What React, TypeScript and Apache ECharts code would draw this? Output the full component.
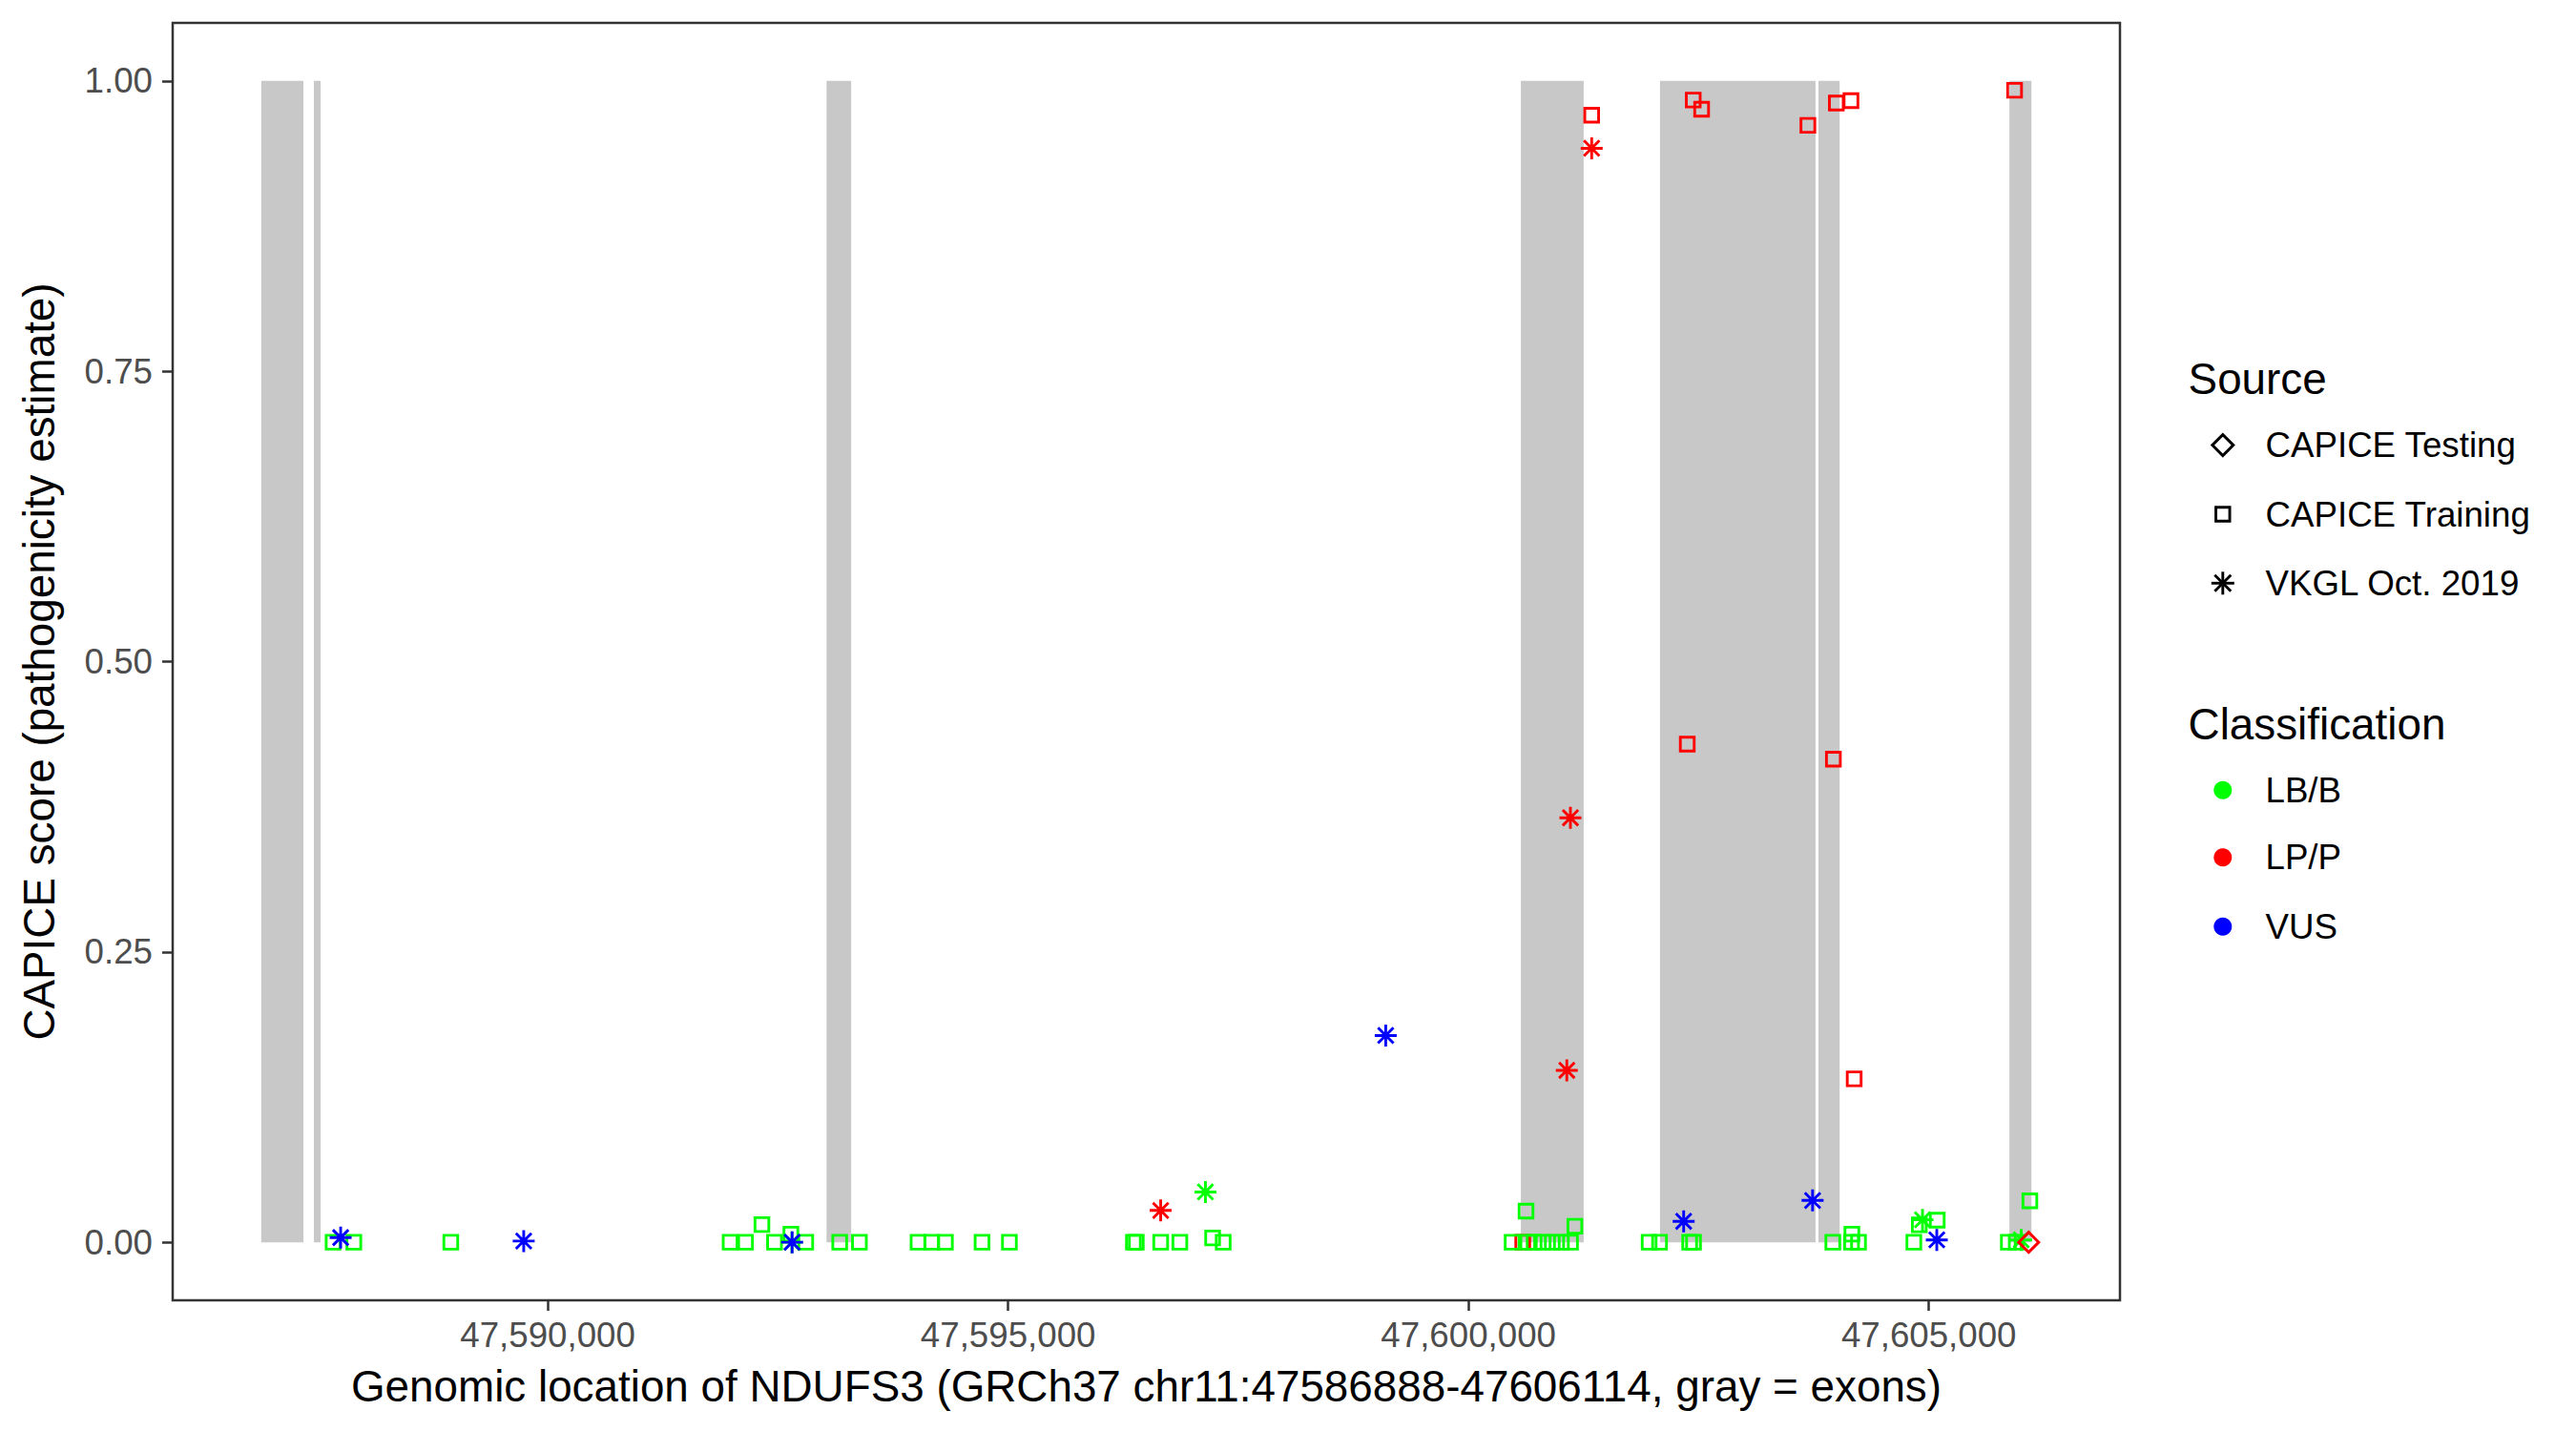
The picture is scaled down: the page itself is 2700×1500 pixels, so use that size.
import React, { useEffect, useRef } from "react";
import * as echarts from "echarts";

// Gene span (GRCh37 chr11) and exons (gray rectangles)
const geneStart = 47586888;
const geneEnd = 47606114;
const exonStarts = [47586889, 47587460, 47593028, 47600569, 47602080, 47603801, 47605875];
const exonEnds = [47587347, 47587533, 47593296, 47601251, 47603769, 47604031, 47606114];

// Tick values
const xTicks = [47590000, 47595000, 47600000, 47605000];
const yTicks = [0, 0.25, 0.5, 0.75, 1];

// [genomic position, CAPICE score]
const lpTraining: [number, number][] = [
  [47600589, 0], [47601338, 0.9705], [47602441, 0.9836], [47602532, 0.9757],
  [47603686, 0.9618], [47603995, 0.981], [47604154, 0.983], [47605931, 0.992],
  [47602376, 0.429], [47603963, 0.416], [47604189, 0.1407],
];
const lbTraining: [number, number][] = [
  [47587669, 0], [47587894, 0], [47588947, 0], [47591981, 0], [47592148, 0],
  [47592326, 0.0152], [47592463, 0], [47592641, 0.007], [47592802, 0], [47593171, 0],
  [47593385, 0], [47594022, 0], [47594170, 0], [47594319, 0], [47594717, 0],
  [47595014, 0], [47596361, 0], [47596392, 0], [47596657, 0], [47596865, 0],
  [47597221, 0.0037], [47597336, 0], [47600474, 0], [47600644, 0], [47600713, 0],
  [47600811, 0], [47600910, 0], [47601009, 0], [47601108, 0], [47600625, 0.0268],
  [47601155, 0.0138], [47601962, 0], [47602075, 0], [47602402, 0], [47602444, 0],
  [47603957, 0], [47604164, 0.007], [47604160, 0], [47604236, 0], [47604837, 0],
  [47604896, 0.015], [47605091, 0.019], [47605863, 0], [47605949, 0], [47606097, 0.0356],
];
const lbVkgl: [number, number][] = [
  [47592652, 0], [47597143, 0.0433], [47604931, 0.0193], [47606003, 0.002],
];
const lpVkgl: [number, number][] = [
  [47596657, 0.0274], [47601068, 0.148], [47601107, 0.3655], [47601338, 0.942],
];
const lpTesting: [number, number][] = [[47606084, 0]];
const vusVkgl: [number, number][] = [
  [47587751, 0.004], [47589739, 0.001], [47592654, 0], [47599101, 0.178],
  [47602337, 0.018], [47603737, 0.036], [47605086, 0.002],
];

const sourceLabels = ["CAPICE Testing", "CAPICE Training", "VKGL Oct. 2019"];
const classLabels = ["LB/B", "LP/P", "VUS"];
const classColors = ["#00FF00", "#FF0000", "#0000FF"];

const FONT = "'Liberation Sans', Arial, Helvetica, sans-serif";
const ASTERISK = "path://M-10 0L10 0M0-10L0 10M-7.07-7.07L7.07 7.07M-7.07 7.07L7.07-7.07";
const STROKE = 2.9;

function fmtThousands(v: number): string {
  return String(Math.round(v)).replace(/\B(?=(\d{3})+(?!\d))/g, ",");
}

function pointSeries(data: [number, number][], symbol: string, size: number, color: string) {
  return {
    type: "scatter",
    data,
    symbol,
    symbolSize: size,
    itemStyle: { color: "rgba(0,0,0,0)", borderColor: color, borderWidth: STROKE, opacity: 1 },
    emphasis: { disabled: true },
    silent: true,
    z: 3,
  };
}

export default function App() {
  const ref = useRef<HTMLDivElement>(null);
  useEffect(() => {
    document.body.style.margin = "0";
    if (!ref.current) return;
    const chart = echarts.init(ref.current, null, { renderer: "svg" });
    const span = geneEnd - geneStart;
    const xMin = geneStart - 0.05 * span;
    const xMax = geneEnd + 0.05 * span;

    const lx = 2293.6;
    const sx = 2329.8;
    const tx = 2374.5;
    const srcY = [466.6, 539, 611.3];
    const clsY = [828.2, 898.8, 971.2];

    const asteriskLines = (cx: number, cy: number, r: number, color: string) => {
      const d = r * 0.7071;
      const segs = [
        [-r, 0, r, 0], [0, -r, 0, r], [-d, -d, d, d], [-d, d, d, -d],
      ];
      return segs.map((s) => ({
        type: "line",
        shape: { x1: cx + s[0], y1: cy + s[1], x2: cx + s[2], y2: cy + s[3] },
        style: { stroke: color, lineWidth: STROKE },
      }));
    };

    const textEl = (text: string, x: number, y: number, size: number, align = "left") => ({
      type: "text",
      x,
      y,
      style: {
        text,
        fontSize: size,
        fontFamily: FONT,
        fill: "#000",
        textAlign: align,
        align,
        textVerticalAlign: "middle",
        verticalAlign: "middle",
      },
    });

    const graphics: any[] = [
      textEl("Source", lx, 397.8, 45.8),
      {
        type: "polygon",
        shape: { points: [[sx, srcY[0] - 11], [sx + 11, srcY[0]], [sx, srcY[0] + 11], [sx - 11, srcY[0]]] },
        style: { fill: "none", stroke: "#000", lineWidth: STROKE },
      },
      {
        type: "rect",
        shape: { x: sx - 7.25, y: srcY[1] - 7.25, width: 14.5, height: 14.5 },
        style: { fill: "none", stroke: "#000", lineWidth: STROKE },
      },
      ...asteriskLines(sx, srcY[2], 12, "#000"),
      ...sourceLabels.map((t, i) => textEl(t, tx, srcY[i], 36.7)),
      textEl("Classification", lx, 759.4, 45.8),
      ...classColors.map((c, i) => ({
        type: "circle",
        shape: { cx: sx, cy: clsY[i], r: 9.5 },
        style: { fill: c },
      })),
      ...classLabels.map((t, i) => textEl(t, tx, clsY[i], 36.7)),
      textEl(
        "Genomic location of NDUFS3 (GRCh37 chr11:47586888-47606114, gray = exons)",
        1201.5,
        1453,
        45.8,
        "center"
      ),
      {
        type: "text",
        x: 41.5,
        y: 693.5,
        rotation: Math.PI / 2,
        style: {
          text: "CAPICE score (pathogenicity estimate)",
          fontSize: 45.8,
          fontFamily: FONT,
          fill: "#000",
          textAlign: "center",
          align: "center",
          textVerticalAlign: "middle",
          verticalAlign: "middle",
        },
      },
    ];

    chart.setOption({
      animation: false,
      backgroundColor: "#ffffff",
      textStyle: { fontFamily: FONT },
      grid: {
        left: 181,
        right: 478,
        top: 24,
        bottom: 137,
        show: true,
        borderColor: "#333333",
        borderWidth: 2.5,
        backgroundColor: "rgba(0,0,0,0)",
        outerBoundsMode: "none",
        containLabel: false,
      },
      xAxis: {
        type: "value",
        min: xMin,
        max: xMax,
        position: "bottom",
        axisLine: { show: false, onZero: false },
        splitLine: { show: false },
        axisTick: {
          show: true,
          customValues: xTicks,
          length: 11,
          lineStyle: { color: "#333333", width: 2.5 },
        },
        axisLabel: {
          customValues: xTicks,
          formatter: (v: number) => fmtThousands(v),
          fontSize: 36.7,
          fontFamily: FONT,
          color: "#4D4D4D",
          margin: 18,
        },
      },
      yAxis: {
        type: "value",
        min: -0.05,
        max: 1.05,
        position: "left",
        axisLine: { show: false, onZero: false },
        splitLine: { show: false },
        axisTick: {
          show: true,
          customValues: yTicks,
          length: 11,
          lineStyle: { color: "#333333", width: 2.5 },
        },
        axisLabel: {
          customValues: yTicks,
          formatter: (v: number) => v.toFixed(2),
          fontSize: 36.7,
          fontFamily: FONT,
          color: "#4D4D4D",
          margin: 21,
        },
      },
      series: [
        {
          type: "custom",
          data: exonStarts.map((s, i) => [s, exonEnds[i], 0, 1]),
          encode: { x: [0, 1], y: [2, 3] },
          silent: true,
          z: 1,
          renderItem: (params: any, api: any) => {
            const p0 = api.coord([api.value(0), api.value(3)]);
            const p1 = api.coord([api.value(1), api.value(2)]);
            return {
              type: "rect",
              shape: { x: p0[0], y: p0[1], width: p1[0] - p0[0], height: p1[1] - p0[1] },
              style: { fill: "#C8C8C8" },
            };
          },
        },
        pointSeries(lpTraining, "rect", 14.5, classColors[1]),
        pointSeries(lbTraining, "rect", 14.5, classColors[0]),
        pointSeries(lbVkgl, ASTERISK, 23, classColors[0]),
        pointSeries(lpVkgl, ASTERISK, 23, classColors[1]),
        pointSeries(lpTesting, "diamond", 21, classColors[1]),
        pointSeries(vusVkgl, ASTERISK, 23, classColors[2]),
      ],
      graphic: { elements: graphics },
    });
    return () => chart.dispose();
  }, []);
  return <div ref={ref} style={{ width: 2700, height: 1500 }} />;
}
